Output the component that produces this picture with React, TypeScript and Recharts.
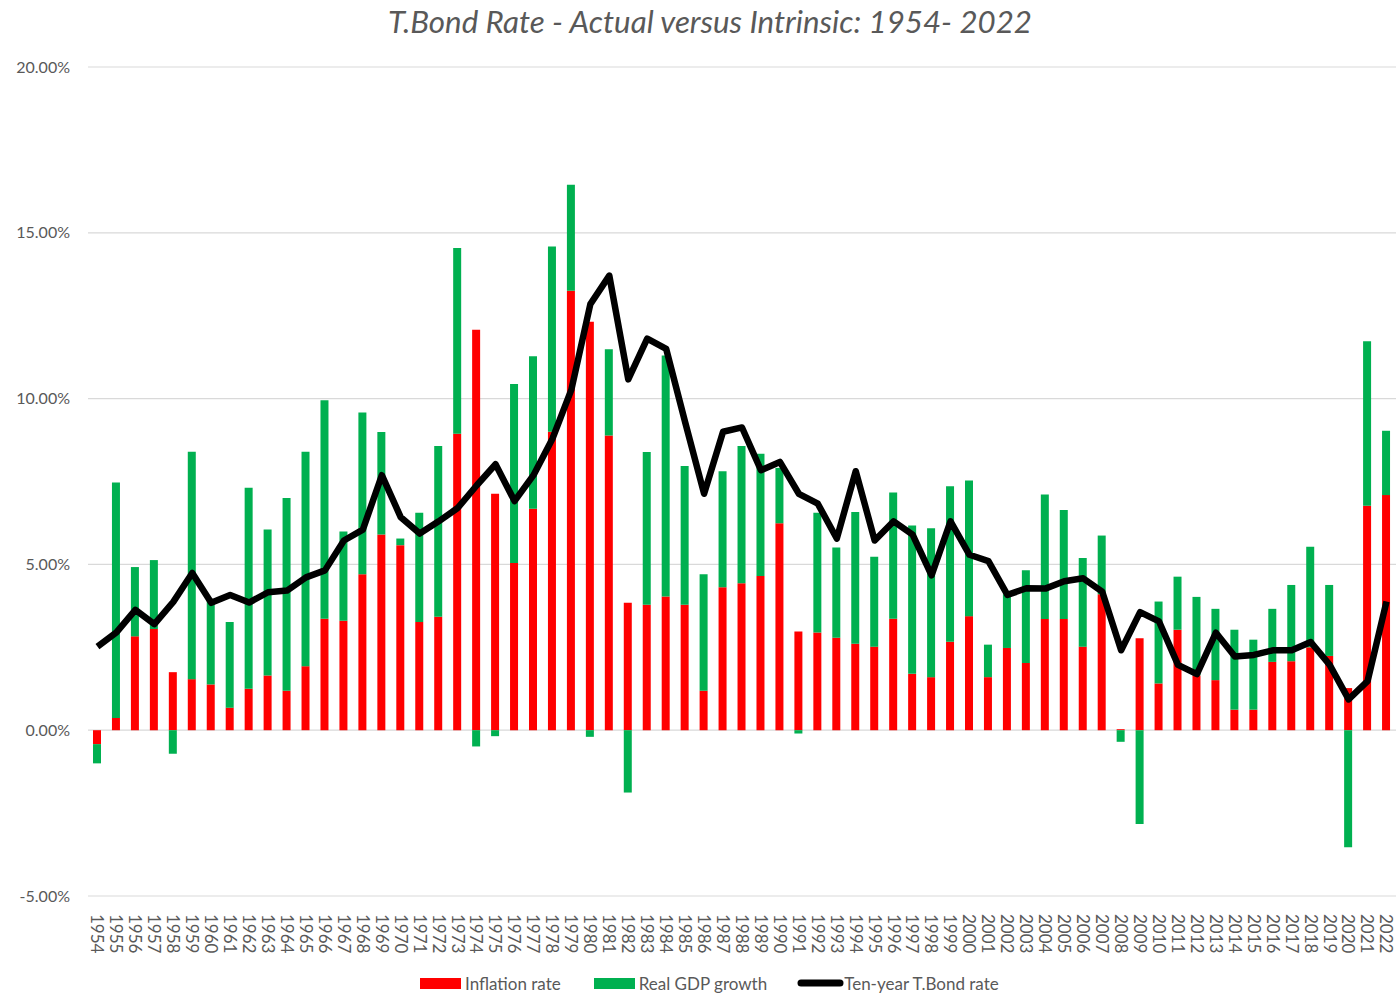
import { ComposedChart, Bar, Line, XAxis, YAxis, CartesianGrid, Legend } from "recharts";

const YEARS = [
  "1954", "1955", "1956", "1957", "1958", "1959", "1960", "1961", "1962", "1963",
  "1964", "1965", "1966", "1967", "1968", "1969", "1970", "1971", "1972", "1973",
  "1974", "1975", "1976", "1977", "1978", "1979", "1980", "1981", "1982", "1983",
  "1984", "1985", "1986", "1987", "1988", "1989", "1990", "1991", "1992", "1993",
  "1994", "1995", "1996", "1997", "1998", "1999", "2000", "2001", "2002", "2003",
  "2004", "2005", "2006", "2007", "2008", "2009", "2010", "2011", "2012", "2013",
  "2014", "2015", "2016", "2017", "2018", "2019", "2020", "2021", "2022",
];

// values in percent
const INFLATION = [
  -0.42, 0.37, 2.83, 3.05, 1.75, 1.54, 1.38, 0.68, 1.25, 1.65,
  1.19, 1.93, 3.36, 3.3, 4.7, 5.9, 5.58, 3.26, 3.42, 8.94,
  12.08, 7.13, 5.04, 6.68, 9.0, 13.25, 12.32, 8.89, 3.84, 3.78,
  4.03, 3.78, 1.19, 4.31, 4.43, 4.65, 6.24, 2.98, 2.95, 2.79,
  2.61, 2.52, 3.36, 1.7, 1.6, 2.67, 3.44, 1.6, 2.48, 2.03,
  3.35, 3.35, 2.52, 4.1, 0.03, 2.77, 1.41, 3.03, 1.65, 1.51,
  0.62, 0.62, 2.06, 2.08, 2.5, 2.24, 1.27, 6.77, 7.09,
];

const GDP_GROWTH = [
  -0.58, 7.1, 2.09, 2.08, -0.71, 6.86, 2.52, 2.58, 6.06, 4.4,
  5.81, 6.47, 6.59, 2.69, 4.88, 3.09, 0.2, 3.3, 5.15, 5.6,
  -0.49, -0.18, 5.4, 4.6, 5.59, 3.2, -0.2, 2.6, -1.88, 4.61,
  7.27, 4.19, 3.51, 3.5, 4.14, 3.69, 1.67, -0.1, 3.61, 2.72,
  3.97, 2.71, 3.81, 4.47, 4.49, 4.69, 4.09, 0.98, 1.62, 2.79,
  3.76, 3.29, 2.67, 1.77, -0.35, -2.83, 2.47, 1.6, 2.37, 2.15,
  2.41, 2.11, 1.6, 2.3, 3.03, 2.14, -3.53, 4.96, 1.94,
];

const TBOND = [
  2.52, 2.95, 3.63, 3.2, 3.87, 4.74, 3.84, 4.08, 3.85, 4.16,
  4.21, 4.61, 4.82, 5.72, 6.05, 7.69, 6.42, 5.93, 6.3, 6.7,
  7.38, 8.02, 6.91, 7.69, 8.79, 10.27, 12.85, 13.71, 10.58, 11.81,
  11.5, 9.29, 7.13, 9.0, 9.13, 7.84, 8.09, 7.13, 6.83, 5.78,
  7.81, 5.72, 6.3, 5.9, 4.67, 6.3, 5.29, 5.1, 4.08, 4.28,
  4.27, 4.49, 4.58, 4.18, 2.41, 3.56, 3.28, 1.97, 1.69, 2.94,
  2.22, 2.27, 2.41, 2.41, 2.66, 1.97, 0.93, 1.48, 3.88,
];

const Y_TICKS = [-5, 0, 5, 10, 15, 20];

const TITLE = "T.Bond Rate - Actual versus Intrinsic: 1954- 2022";

const data = YEARS.map((year, i) => ({
  year,
  inflation: INFLATION[i],
  gdp: GDP_GROWTH[i],
  tbond: TBOND[i],
}));

const TEXT = "#595959";
const FONT = "Lato, 'Open Sans', sans-serif";

function YearTick(props: any) {
  const { x, y, payload } = props;
  const ty = y + 16;
  return (
    <text
      x={x}
      y={ty}
      dy="0.36em"
      transform={`rotate(90, ${x}, ${ty})`}
      textAnchor="start"
      fill={TEXT}
      fontSize={17}
      fontFamily={FONT}
    >
      {payload.value}
    </text>
  );
}

function LegendBox() {
  const item = { display: "flex", alignItems: "center", color: TEXT, fontSize: 17, fontFamily: FONT };
  return (
    <div style={{ display: "flex", alignItems: "center", paddingLeft: 420, height: 24 }}>
      <div style={item}>
        <span style={{ width: 41, height: 11, background: "#ff0000", marginRight: 4 }} />
        Inflation rate
      </div>
      <div style={{ ...item, marginLeft: 33 }}>
        <span style={{ width: 41, height: 11, background: "#00b050", marginRight: 4 }} />
        Real GDP growth
      </div>
      <div style={{ ...item, marginLeft: 30 }}>
        <svg width={47} height={12}>
          <line x1={4} y1={6} x2={43} y2={6} stroke="#000" strokeWidth={7} strokeLinecap="round" />
        </svg>
        Ten-year T.Bond rate
      </div>
    </div>
  );
}

export default function App() {
  return (
    <div style={{ position: "absolute", left: 0, top: 0, width: 1397, height: 1005, background: "#fff" }}>
      <svg width={1397} height={50} style={{ position: "absolute", left: 0, top: 0 }}>
        <text
          x={710}
          y={33}
          textAnchor="middle"
          fill={TEXT}
          fontSize={30}
          fontStyle="italic"
          fontFamily={FONT}
          textLength={644}
          lengthAdjust="spacingAndGlyphs"
        >
          {TITLE}
        </text>
      </svg>
      <ComposedChart
        width={1397}
        height={1005}
        data={data}
        stackOffset="sign"
        margin={{ top: 67, right: 1, bottom: 20, left: 1 }}
      >
        <CartesianGrid vertical={false} stroke="#d9d9d9" strokeWidth={1.2} />
        <XAxis
          dataKey="year"
          interval={0}
          axisLine={false}
          tickLine={false}
          tickSize={0}
          height={65}
          tick={<YearTick />}
        />
        <YAxis
          width={87}
          domain={[-5, 20]}
          ticks={Y_TICKS}
          axisLine={false}
          tickLine={false}
          tickSize={0}
          tickMargin={18}
          tickFormatter={(v: number) => `${v.toFixed(2)}%`}
          tick={{ fill: TEXT, fontSize: 16, fontFamily: FONT }}
        />
        <Legend
          height={24}
          verticalAlign="bottom"
          content={<LegendBox />}
          wrapperStyle={{ left: 0, width: 1397, bottom: 10 }}
        />
        <Bar dataKey="inflation" name="Inflation rate" stackId="a" fill="#ff0000" barSize={8} isAnimationActive={false} />
        <Bar dataKey="gdp" name="Real GDP growth" stackId="a" fill="#00b050" barSize={8} isAnimationActive={false} />
        <Line
          dataKey="tbond"
          name="Ten-year T.Bond rate"
          type="linear"
          stroke="#000"
          strokeWidth={6.5}
          strokeLinejoin="round"
          dot={false}
          activeDot={false}
          isAnimationActive={false}
        />
      </ComposedChart>
    </div>
  );
}
